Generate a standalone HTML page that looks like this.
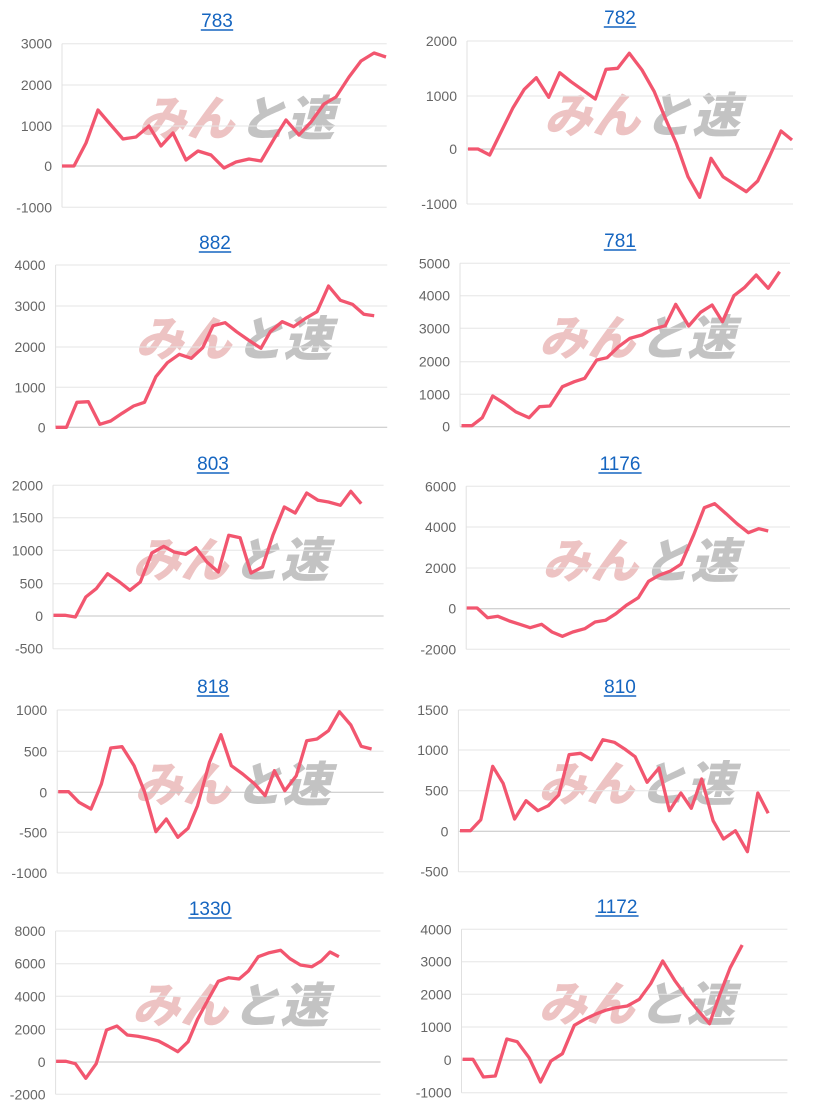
<!DOCTYPE html>
<html><head><meta charset="utf-8">
<style>
html,body{margin:0;padding:0;background:#fff;}
body{width:814px;height:1110px;overflow:hidden;}
svg{display:block;}
</style></head>
<body>
<svg id="s" width="814" height="1110" xmlns="http://www.w3.org/2000/svg"></svg>
<script>
const C=[
{t:"783",tx:217,ty:27,ox:0,oy:0,fx:3,fy:3,ax:[186,1160],g:[["3000",131],["2000",255],["1000",378],["0",498],["-1000",622]],z:498,
p:[[186,498],[222,498],[258,429],[294,330],[330,372],[369,417],[408,411],[447,378],[483,438],[519,399],[558,480],[594,453],[633,465],[672,504],[708,486],[747,477],[783,483],[822,417],[858,360],[897,405],[933,366],[972,312],[1008,291],[1047,231],[1083,183],[1122,159],[1158,171]]},
{t:"782",tx:620,ty:24,ox:407,oy:0,fx:3,fy:3,ax:[180,1158],g:[["2000",123],["1000",288],["0",447],["-1000",612]],z:447,
p:[[183,447],[213,447],[248,465],[285,390],[318,323],[352,268],[388,233],[425,292],[458,218],[492,245],[530,272],[565,297],[597,208],[632,205],[667,160],[705,210],[742,275],[775,355],[808,430],[843,530],[878,592],[912,475],[948,530],[983,553],[1018,575],[1052,543],[1088,468],[1122,393],[1155,420]]},
{t:"882",tx:215,ty:249,ox:0,oy:225,fx:1.924,fy:3,ax:[107,745],g:[["4000",120],["3000",243],["2000",366],["1000",487],["0",607]],z:607,
p:[[107,607],[128,607],[148,532],[170,530],[192,598],[213,588],[235,565],[257,543],[278,532],[300,455],[322,413],[345,388],[368,400],[390,368],[410,302],[433,293],[455,320],[478,345],[502,370],[520,320],[543,290],[565,305],[588,280],[610,260],[632,183],[655,226],[678,238],[700,268],[720,272]]},
{t:"781",tx:620,ty:247,ox:0,oy:225,fx:1.924,fy:3,ax:[885,1520],g:[["5000",115],["4000",212],["3000",310],["2000",410],["1000",508],["0",605]],z:605,
p:[[888,602],[908,602],[928,578],[948,513],[970,535],[992,560],[1018,578],[1038,545],[1058,543],[1082,485],[1105,470],[1125,460],[1148,405],[1168,398],[1190,365],[1212,340],[1235,330],[1255,313],[1280,302],[1300,238],[1325,303],[1348,262],[1370,240],[1390,290],[1412,212],[1432,188],[1455,150],[1478,190],[1500,140]]},
{t:"803",tx:213,ty:470,ox:0,oy:447,fx:1.924,fy:3,ax:[102,738],g:[["2000",115],["1500",212],["1000",310],["500",410],["0",507],["-500",605]],z:507,
p:[[103,505],[125,505],[145,510],[165,450],[185,425],[207,380],[230,405],[250,430],[270,405],[292,318],[315,298],[335,315],[357,322],[377,302],[398,345],[420,375],[440,265],[462,272],[483,378],[505,360],[525,265],[547,180],[568,198],[590,138],[612,160],[632,165],[655,175],[675,133],[695,170]]},
{t:"1176",tx:620,ty:470,ox:0,oy:447,fx:1.924,fy:3,ax:[897,1520],g:[["6000",118],["4000",240],["2000",363],["0",485],["-2000",607]],z:485,
p:[[898,483],[918,483],[938,512],[958,508],[980,522],[1000,532],[1020,542],[1042,532],[1062,555],[1082,568],[1102,555],[1125,545],[1145,525],[1165,520],[1185,500],[1205,475],[1228,452],[1248,403],[1268,385],[1290,372],[1310,352],[1335,262],[1355,182],[1375,170],[1397,200],[1418,230],[1440,257],[1460,245],[1478,252]]},
{t:"818",tx:213,ty:693,ox:0,oy:669,fx:1.924,fy:3,ax:[110,738],g:[["1000",123],["500",247],["0",370],["-500",490],["-1000",612]],z:370,
p:[[112,368],[132,368],[152,400],[175,420],[195,345],[213,237],[235,233],[258,290],[278,368],[300,488],[320,450],[342,505],[362,478],[380,410],[403,280],[425,197],[445,290],[467,315],[490,345],[510,380],[528,305],[548,365],[570,320],[590,215],[610,210],[632,185],[653,128],[675,168],[695,232],[715,240]]},
{t:"810",tx:620,ty:693,ox:0,oy:669,fx:1.924,fy:3,ax:[882,1520],g:[["1500",123],["1000",243],["500",365],["0",487],["-500",608]],z:487,
p:[[885,485],[905,485],[925,452],[948,292],[968,343],[990,450],[1012,395],[1035,425],[1055,410],[1075,378],[1095,257],[1117,253],[1138,272],[1160,212],[1182,220],[1202,240],[1222,263],[1245,340],[1268,297],[1288,425],[1310,372],[1330,418],[1350,330],[1372,455],[1392,510],[1415,485],[1438,548],[1458,372],[1478,433]]},
{t:"1330",tx:210,ty:915,ox:0,oy:891,fx:1.924,fy:3,ax:[107,732],g:[["8000",120],["6000",218],["4000",316],["2000",415],["0",513],["-2000",610]],z:513,
p:[[108,511],[127,511],[145,518],[165,562],[185,518],[205,417],[225,405],[245,432],[265,436],[285,442],[305,450],[323,465],[342,482],[362,452],[380,385],[400,327],[420,271],[440,260],[460,264],[478,240],[497,197],[518,185],[540,178],[558,203],[578,222],[600,227],[618,210],[635,183],[652,197]]},
{t:"1172",tx:617,ty:913,ox:0,oy:891,fx:1.924,fy:3,ax:[888,1515],g:[["4000",115],["3000",212],["2000",310],["1000",408],["0",507],["-1000",605]],z:507,
p:[[890,505],[910,505],[930,558],[953,555],[975,444],[995,452],[1018,500],[1040,573],[1060,510],[1082,488],[1105,403],[1125,385],[1145,370],[1165,358],[1185,350],[1207,345],[1230,325],[1252,278],[1275,210],[1298,268],[1320,315],[1342,357],[1365,398],[1385,310],[1405,230],[1428,162]]}
];
let h="";
for(const c of C){
 const X=v=>(c.ox+v/c.fx).toFixed(1), Y=v=>(c.oy+v/c.fy).toFixed(1);
 const x0=+X(c.ax[0]), x1=+X(c.ax[1]);
 const ys=c.g.map(g=>+Y(g[1]));
 const yt=ys[0], yb=ys[ys.length-1];
 const cx=(x0+x1)/2+12, cy=(yt+yb)/2-8;
 h+=`<text x="${cx-2}" y="${cy+18}" text-anchor="end" font-family="'Noto Sans CJK JP',sans-serif" font-weight="900" font-style="italic" font-size="48" fill="#eab9b9" fill-opacity="0.85">みん</text>`;
 h+=`<text x="${cx+2}" y="${cy+18}" text-anchor="start" font-family="'Noto Sans CJK JP',sans-serif" font-weight="900" font-style="italic" font-size="48" fill="#bdbdbd" fill-opacity="0.9">と速</text>`;
 for(let i=0;i<c.g.length;i++){
  const y=ys[i];
  const isZ=c.g[i][1]===c.z;
  h+=`<line x1="${x0}" x2="${x1}" y1="${y}" y2="${y}" stroke="${isZ?'#c4c4c4':'#e6e6e6'}" stroke-width="1"/>`;
  h+=`<text x="${x0-10}" y="${y+5}" text-anchor="end" font-family="'Liberation Sans',sans-serif" font-size="14" fill="#666">${c.g[i][0]}</text>`;
 }
 h+=`<line x1="${x0}" x2="${x0}" y1="${yt}" y2="${yb}" stroke="#e0e0e0"/>`;
 h+=`<polyline fill="none" stroke="#f2566f" stroke-width="3.3" stroke-linejoin="round" points="${c.p.map(q=>X(q[0])+','+Y(q[1])).join(' ')}"/>`;
 h+=`<text x="${c.tx}" y="${c.ty}" text-anchor="middle" font-family="'Liberation Sans',sans-serif" font-size="19" fill="#1565c0">${c.t}</text>`;
 h+=`<line x1="${c.tx-(c.t.length*5.4)}" x2="${c.tx+(c.t.length*5.4)}" y1="${c.ty+3}" y2="${c.ty+3}" stroke="#1565c0" stroke-width="1.4"/>`;
}
document.getElementById("s").innerHTML=h;
</script>
</body></html>
